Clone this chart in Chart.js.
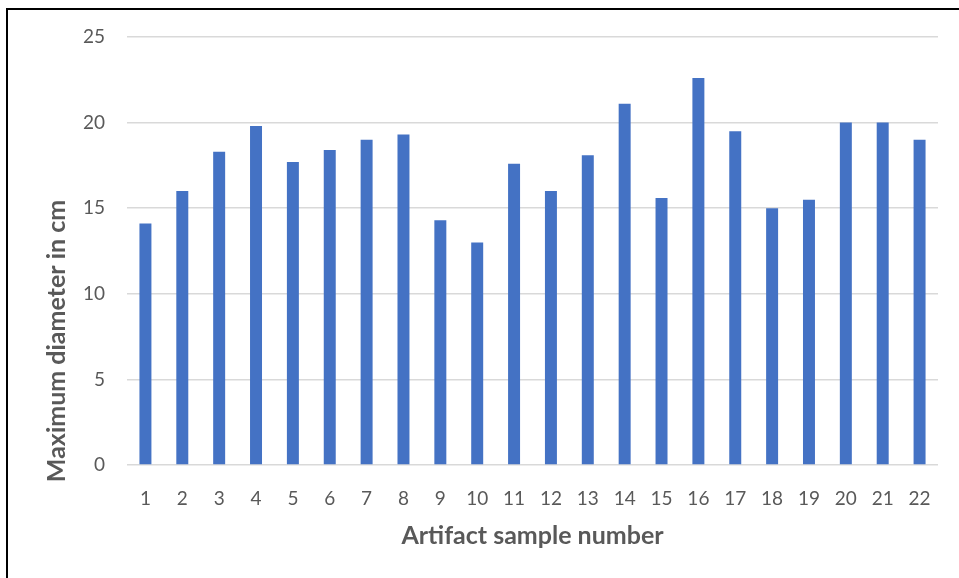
<!DOCTYPE html>
<html>
<head>
<meta charset="utf-8">
<script src="https://cdn.jsdelivr.net/npm/chart.js@4"></script>
<style>
  body { margin: 0; background: #fff; overflow: hidden; }
  #frame { position: absolute; left: 6px; top: 8px; width: 1000px; height: 1000px; border: 2px solid #000; }
  #wrap { position: absolute; left: 0; top: 0; width: 959px; height: 578px; }
</style>
</head>
<body>
<div id="frame"></div>
<div id="wrap"><canvas id="chart" width="959" height="578"></canvas></div>
<script>
// sample numbers along x
const samples = ['1','2','3','4','5','6','7','8','9','10','11','12','13','14','15','16','17','18','19','20','21','22'];
// max diameter (cm)
const diameters = [14.1, 16, 18.3, 19.8, 17.7, 18.4, 19.0, 19.3, 14.3, 13, 17.6, 16, 18.1, 21.1, 15.6, 22.6, 19.5, 15, 15.5, 20, 20, 19];
const yTicks = [0, 5, 10, 15, 20, 25];

const xTitle = 'Artifact sample number';
const yTitle = 'Maximum diameter in cm';

// y title sits lower than the plot center in the original, so draw it by hand
const yTitlePlugin = {
  id: 'yTitle',
  afterDraw(chart) {
    const ctx = chart.ctx;
    ctx.save();
    ctx.translate(57, 341);
    ctx.rotate(-Math.PI / 2);
    ctx.font = 'bold 25px Lato';
    ctx.fillStyle = '#595959';
    ctx.textAlign = 'center';
    ctx.textBaseline = 'middle';
    ctx.fillText(yTitle, 0, 0);
    ctx.restore();
  }
};

new Chart(document.getElementById('chart').getContext('2d'), {
  type: 'bar',
  data: {
    labels: samples,
    datasets: [{
      data: diameters,
      backgroundColor: '#4472C4',
      barPercentage: 0.325,
      categoryPercentage: 1,
    }],
  },
  options: {
    responsive: false,
    animation: false,
    layout: { padding: { top: 37, right: 21, bottom: 0, left: 0 } },
    plugins: { legend: { display: false }, tooltip: { enabled: false } },
    scales: {
      x: {
        grid: { display: false },
        border: { display: false },
        ticks: { color: '#595959', font: { family: 'Lato', size: 19 }, padding: 14, maxRotation: 0 },
        title: {
          display: true, text: xTitle, color: '#595959',
          font: { family: 'Lato', size: 25, weight: 'bold' },
          padding: { top: 0, bottom: 27 }
        },
        afterFit(scale) { scale.height = 113; }
      },
      y: {
        min: 0, max: 25,
        afterBuildTicks(scale) { scale.ticks = yTicks.map(v => ({ value: v })); },
        grid: { color: '#d9d9d9', lineWidth: 1.5, drawTicks: false },
        border: { display: false },
        ticks: { color: '#595959', font: { family: 'Lato', size: 19 }, padding: 22 },
        afterFit(scale) { scale.width = 127; }
      }
    }
  },
  plugins: [yTitlePlugin]
});
</script>
</body>
</html>
